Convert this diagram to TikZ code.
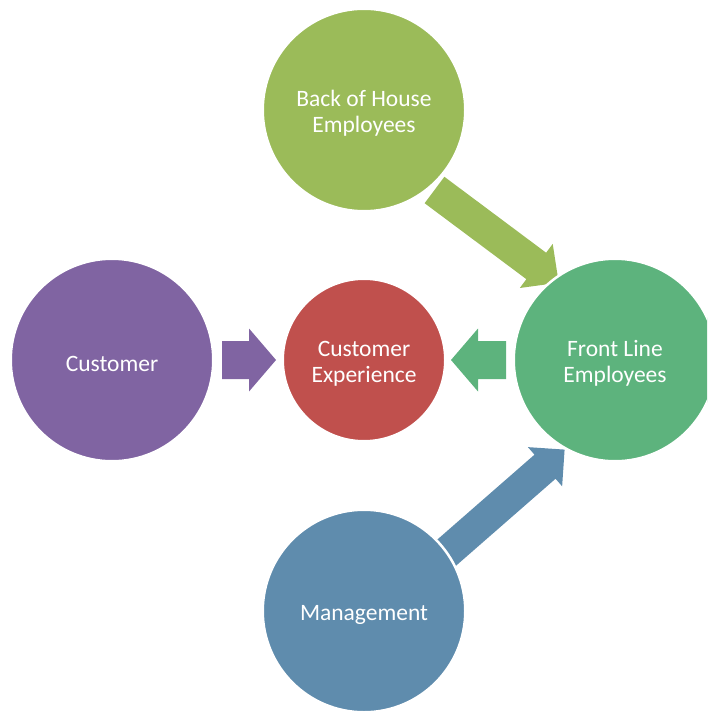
\documentclass[tikz,border=0pt]{standalone}
\usepackage{fontspec}
\setmainfont{Carlito}
\usetikzlibrary{calc,backgrounds}
\definecolor{cboh}{HTML}{9BBB59}
\definecolor{ccust}{HTML}{8064A2}
\definecolor{ccx}{HTML}{C0504D}
\definecolor{cfl}{HTML}{5DB37D}
\definecolor{cmgmt}{HTML}{5F8CAD}
\newcommand\tstrut{\rule{0pt}{23.5pt}}
\tikzset{
  bubble/.style={circle, draw=white, line width=2.5pt, text=white, align=center,
    inner sep=0pt, font=\fontsize{23.5}{26}\selectfont},
  big/.style={bubble, minimum size=202.5pt},
  small/.style={bubble, minimum size=162.5pt}
}
% #1 tail, #2 tip, #3 body half width, #4 head half width, #5 head length, #6 colour
\newcommand\blockarr[6]{%
  \coordinate (#1-#2-b) at ($(#2)!#5!(#1)$);
  \fill[#6] ($(#1)!#3!90:(#2)$) -- ($(#1-#2-b)!#3!90:(#2)$) -- ($(#1-#2-b)!#4!90:(#2)$)
    -- (#2) -- ($(#1-#2-b)!#4!-90:(#2)$) -- ($(#1-#2-b)!#3!-90:(#2)$)
    -- ($(#1)!#3!-90:(#2)$) -- cycle;}
\begin{document}
\begin{tikzpicture}[x=1pt,y=-1pt]
\useasboundingbox (0,0) rectangle (707,711);
\clip (0,0) rectangle (707,711);
\node[big, fill=cboh] (boh) at (364,110) {\tstrut Back of House\\Employees};
\node[big, fill=ccust] (cust) at (112,360) {\tstrut Customer};
\node[small, fill=ccx] (cx) at (364,360) {\tstrut Customer\\Experience};
\node[big, fill=cfl] (fl) at (615,360) {\tstrut Front Line\\Employees};
\node[big, fill=cmgmt] (mgmt) at (364,611) {\tstrut Management};
\coordinate (a1t) at (222,360);
\coordinate (a1h) at (276,360);
\coordinate (a2t) at (506,360);
\coordinate (a2h) at (451,360);
\coordinate (a3t) at (434.5,190);
\coordinate (a3h) at (558.7,282.7);
\coordinate (a4t) at (439.6,558.8);
\coordinate (a4h) at (564.6,449.6);
\begin{pgfonlayer}{background}
\blockarr{a1t}{a1h}{19pt}{31.5pt}{27pt}{ccust}
\blockarr{a2t}{a2h}{19pt}{31.5pt}{27pt}{cfl}
\blockarr{a3t}{a3h}{16.5pt}{27.5pt}{28pt}{cboh}
\blockarr{a4t}{a4h}{16pt}{26pt}{26pt}{cmgmt}
\end{pgfonlayer}
\end{tikzpicture}
\end{document}
